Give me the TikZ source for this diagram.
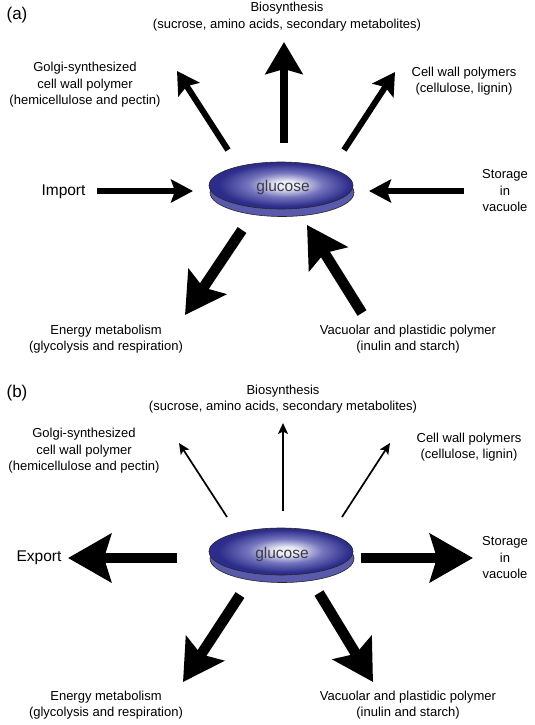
\documentclass[tikz,border=0pt]{standalone}
\usepackage{fontspec}
\setmainfont{Liberation Sans}
\usetikzlibrary{arrows.meta,shapes.geometric}
\definecolor{disklight}{HTML}{ECECF6}
\definecolor{diskmid}{HTML}{7474BE}
\definecolor{diskdark}{HTML}{2C2C8A}
\definecolor{diskrim}{HTML}{5A5AAC}
\definecolor{glutext}{HTML}{3A3A48}
\pgfdeclareradialshading{diskshade}{\pgfpoint{2bp}{1bp}}{color(0bp)=(disklight); color(4bp)=(disklight); color(13bp)=(diskmid); color(23bp)=(diskdark); color(50bp)=(diskdark)}
\begin{document}
\begin{tikzpicture}[x=1pt,y=-1pt,
  lbl/.style={font=\fontsize{13}{16.5}\selectfont, align=center, inner sep=0pt},
  biglbl/.style={font=\fontsize{15.5}{18}\selectfont, inner sep=0pt},
  panel/.style={font=\fontsize{17}{20}\selectfont, inner sep=0pt},
  glutxt/.style={font=\fontsize{15.5}{18}\selectfont, text=glutext, inner sep=0pt},
  disktop/.style={shading=diskshade, draw=black!85, line width=0.6pt},
  diskrimst/.style={fill=diskrim, draw=black!85, line width=0.6pt},
  arrthin/.style={line width=1.7pt, -{Stealth[length=11pt,width=10pt,inset=2.5pt]}},
  arrsmall/.style={line width=6pt, -{Stealth[length=22pt,width=23pt,inset=4pt]}},
  arrmed/.style={line width=6pt, -{Stealth[length=22pt,width=25pt,inset=4pt]}},
  arrup/.style={line width=8pt, -{Stealth[length=32pt,width=37pt,inset=5pt]}},
  arrbig/.style={line width=10.5pt, -{Stealth[length=40pt,width=45pt,inset=7pt]}},
  arrhuge/.style={line width=10.5pt, -{Stealth[length=43pt,width=48pt,inset=7pt]}}
]
\useasboundingbox (0,0) rectangle (535,725);

% ---------------- panel (a) ----------------
\node[panel] (pa) at (17,15) {(a)};
\path[diskrimst] (282,192.5) ellipse [x radius=72, y radius=24];
\path[disktop] (281,185.5) ellipse [x radius=72, y radius=23.5];
\node[glutxt] (gluA) at (283,187) {glucose};

\node[lbl] (bioA) at (287,16.5) {Biosynthesis\\(sucrose, amino acids, secondary metabolites)};
\node[lbl] (golA) at (85,85) {Golgi-synthesized\\cell wall polymer\\(hemicellulose and pectin)};
\node[lbl] (cwA) at (464,81) {Cell wall polymers\\(cellulose, lignin)};
\node[biglbl] (impA) at (63.5,192) {Import};
\node[lbl] (stoA) at (505,191) {Storage\\in\\vacuole};
\node[lbl] (enA) at (106,339) {Energy metabolism\\(glycolysis and respiration)};
\node[lbl] (vacA) at (408,339) {Vacuolar and plastidic polymer\\(inulin and starch)};

\coordinate (aUs) at (284,143);   \coordinate (aUt) at (284,42);
\coordinate (aGs) at (228,150);   \coordinate (aGt) at (177,71);
\coordinate (aCs) at (344,150);   \coordinate (aCt) at (395,72);
\coordinate (aIs) at (97,191);    \coordinate (aIt) at (193,191);
\coordinate (aSs) at (464,191);   \coordinate (aSt) at (369,191);
\coordinate (aEs) at (242,230);   \coordinate (aEt) at (185,315);
\coordinate (aVs) at (362,313);   \coordinate (aVt) at (307,225);

\draw[arrup]   (aUs) -- (aUt);
\draw[arrmed]  (aGs) -- (aGt);
\draw[arrmed]  (aCs) -- (aCt);
\draw[arrsmall](aIs) -- (aIt);
\draw[arrsmall](aSs) -- (aSt);
\draw[arrbig]  (aEs) -- (aEt);
\draw[arrbig]  (aVs) -- (aVt);

% ---------------- panel (b) ----------------
\node[panel] (pb) at (17,393) {(b)};
\path[diskrimst] (282,558.5) ellipse [x radius=72, y radius=24];
\path[disktop] (281,551.5) ellipse [x radius=72, y radius=23.5];
\node[glutxt] (gluB) at (282,554) {glucose};

\node[lbl] (bioB) at (283,399) {Biosynthesis\\(sucrose, amino acids, secondary metabolites)};
\node[lbl] (golB) at (84,451) {Golgi-synthesized\\cell wall polymer\\(hemicellulose and pectin)};
\node[lbl] (cwB) at (469,447) {Cell wall polymers\\(cellulose, lignin)};
\node[biglbl] (expB) at (39,558) {Export};
\node[lbl] (stoB) at (505,558) {Storage\\in\\vacuole};
\node[lbl] (enB) at (106,705) {Energy metabolism\\(glycolysis and respiration)};
\node[lbl] (vacB) at (408,705) {Vacuolar and plastidic polymer\\(inulin and starch)};

\coordinate (bUs) at (283,511);   \coordinate (bUt) at (283,423);
\coordinate (bGs) at (227,517);   \coordinate (bGt) at (179,443);
\coordinate (bCs) at (342,517);   \coordinate (bCt) at (390,443);
\coordinate (bXs) at (177,558);   \coordinate (bXt) at (68,558);
\coordinate (bSs) at (361,558);   \coordinate (bSt) at (473,558);
\coordinate (bEs) at (240,595);   \coordinate (bEt) at (183,682);
\coordinate (bVs) at (319,593);   \coordinate (bVt) at (373,682);

\draw[arrthin] (bUs) -- (bUt);
\draw[arrthin] (bGs) -- (bGt);
\draw[arrthin] (bCs) -- (bCt);
\draw[arrhuge] (bXs) -- (bXt);
\draw[arrhuge] (bSs) -- (bSt);
\draw[arrbig]  (bEs) -- (bEt);
\draw[arrbig]  (bVs) -- (bVt);
\end{tikzpicture}
\end{document}
